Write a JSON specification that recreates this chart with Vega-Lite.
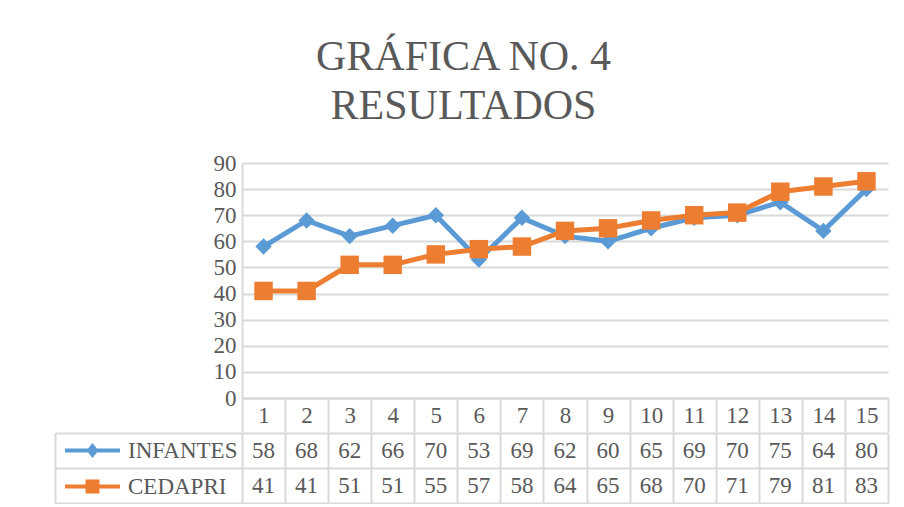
{
  "$schema": "https://vega.github.io/schema/vega-lite/v6.json",
  "padding": {"left": 54, "top": 36, "right": 5, "bottom": 0},
  "background": "white",
  "title": {
    "text": ["GRÁFICA NO. 4", "RESULTADOS"],
    "font": "Liberation Serif",
    "fontSize": 42,
    "fontWeight": "normal",
    "color": "#595959",
    "anchor": "middle",
    "lineHeight": 49,
    "offset": 24,
    "dx": -8
  },
  "datasets": {
    "scores": [
      {"n": 1, "serie": "INFANTES", "valor": 58},
      {"n": 2, "serie": "INFANTES", "valor": 68},
      {"n": 3, "serie": "INFANTES", "valor": 62},
      {"n": 4, "serie": "INFANTES", "valor": 66},
      {"n": 5, "serie": "INFANTES", "valor": 70},
      {"n": 6, "serie": "INFANTES", "valor": 53},
      {"n": 7, "serie": "INFANTES", "valor": 69},
      {"n": 8, "serie": "INFANTES", "valor": 62},
      {"n": 9, "serie": "INFANTES", "valor": 60},
      {"n": 10, "serie": "INFANTES", "valor": 65},
      {"n": 11, "serie": "INFANTES", "valor": 69},
      {"n": 12, "serie": "INFANTES", "valor": 70},
      {"n": 13, "serie": "INFANTES", "valor": 75},
      {"n": 14, "serie": "INFANTES", "valor": 64},
      {"n": 15, "serie": "INFANTES", "valor": 80},
      {"n": 1, "serie": "CEDAPRI", "valor": 41},
      {"n": 2, "serie": "CEDAPRI", "valor": 41},
      {"n": 3, "serie": "CEDAPRI", "valor": 51},
      {"n": 4, "serie": "CEDAPRI", "valor": 51},
      {"n": 5, "serie": "CEDAPRI", "valor": 55},
      {"n": 6, "serie": "CEDAPRI", "valor": 57},
      {"n": 7, "serie": "CEDAPRI", "valor": 58},
      {"n": 8, "serie": "CEDAPRI", "valor": 64},
      {"n": 9, "serie": "CEDAPRI", "valor": 65},
      {"n": 10, "serie": "CEDAPRI", "valor": 68},
      {"n": 11, "serie": "CEDAPRI", "valor": 70},
      {"n": 12, "serie": "CEDAPRI", "valor": 71},
      {"n": 13, "serie": "CEDAPRI", "valor": 79},
      {"n": 14, "serie": "CEDAPRI", "valor": 81},
      {"n": 15, "serie": "CEDAPRI", "valor": 83}
    ]
  },
  "bounds": "flush",
  "spacing": 35,
  "resolve": {
    "scale": {"x": "independent", "y": "independent", "color": "independent"},
    "legend": {"color": "independent"}
  },
  "vconcat": [
    {
      "width": 646,
      "height": 235,
      "data": {"name": "scores"},
      "encoding": {
        "x": {
          "field": "n",
          "type": "ordinal",
          "scale": {"paddingInner": 0, "paddingOuter": 0},
          "axis": {
            "orient": "bottom",
            "title": null,
            "labelAngle": 0,
            "tickBand": "extent",
            "tickSize": 34,
            "tickColor": "#d9d9d9",
            "tickWidth": 2,
            "domainColor": "#d9d9d9",
            "domainWidth": 2,
            "labelFont": "Liberation Serif",
            "labelFontSize": 23,
            "labelColor": "#595959",
            "labelBaseline": "middle",
            "labelPadding": -17,
            "grid": false
          }
        },
        "y": {
          "field": "valor",
          "type": "quantitative",
          "scale": {"domain": [0, 90], "nice": false},
          "axis": {
            "title": null,
            "values": [0, 10, 20, 30, 40, 50, 60, 70, 80, 90],
            "ticks": false,
            "tickSize": 0,
            "labelPadding": 6,
            "labelFont": "Liberation Serif",
            "labelFontSize": 23,
            "labelColor": "#595959",
            "domainColor": "#d9d9d9",
            "domainWidth": 2,
            "grid": true,
            "gridColor": "#d9d9d9",
            "gridWidth": 2
          }
        },
        "color": {
          "field": "serie",
          "type": "nominal",
          "scale": {"domain": ["INFANTES", "CEDAPRI"], "range": ["#5B9BD5", "#ED7D31"]},
          "legend": {
            "orient": "none",
            "legendX": -161,
            "legendY": 276,
            "direction": "vertical",
            "title": null,
            "padding": 0,
            "rowPadding": 12,
            "symbolSize": 225,
            "labelOffset": 24,
            "labelFont": "Liberation Serif",
            "labelFontSize": 23,
            "labelColor": "#595959",
            "labelLimit": 300,
            "encode": {
              "symbols": {
                "update": {
                  "shape": {"signal": "datum.value === 'INFANTES' ? 'M-3.67,-0.27H3.67V0.27H-3.67ZM0,-1L0.8,0L0,1L-0.8,0Z' : 'M-3.67,-0.27H3.67V0.27H-3.67ZM-0.93,-0.93H0.93V0.93H-0.93Z'"},
                  "fill": {"signal": "datum.value === 'INFANTES' ? '#5B9BD5' : '#ED7D31'"},
                  "stroke": {"value": "transparent"},
                  "strokeWidth": {"value": 0},
                  "opacity": {"value": 1},
                  "size": {"value": 225}
                }
              }
            }
          }
        }
      },
      "layer": [
        {
          "transform": [{"filter": "datum.serie === 'INFANTES'"}],
          "mark": {"type": "line", "strokeWidth": 5}
        },
        {
          "transform": [{"filter": "datum.serie === 'INFANTES'"}],
          "mark": {"type": "point", "filled": true, "shape": "diamond", "size": 270, "opacity": 1}
        },
        {
          "transform": [{"filter": "datum.serie === 'CEDAPRI'"}],
          "mark": {"type": "line", "strokeWidth": 5}
        },
        {
          "transform": [{"filter": "datum.serie === 'CEDAPRI'"}],
          "mark": {"type": "point", "filled": true, "shape": "square", "size": 340, "opacity": 1}
        }
      ]
    },
    {
      "width": 646,
      "height": 70,
      "data": {"name": "scores"},
      "mark": {"type": "text", "font": "Liberation Serif", "fontSize": 23, "color": "#595959", "baseline": "middle"},
      "encoding": {
        "x": {
          "field": "n",
          "type": "ordinal",
          "scale": {"paddingInner": 0, "paddingOuter": 0},
          "axis": {
            "title": null,
            "labels": false,
            "ticks": false,
            "domain": false,
            "grid": true,
            "tickBand": "extent",
            "gridColor": "#d9d9d9",
            "gridWidth": 2
          }
        },
        "y": {
          "field": "serie",
          "type": "nominal",
          "scale": {"domain": ["INFANTES", "CEDAPRI"], "paddingInner": 0, "paddingOuter": 0},
          "axis": {
            "orient": "left",
            "offset": 187,
            "title": null,
            "labels": false,
            "tickBand": "extent",
            "tickSize": -187,
            "tickColor": "#d9d9d9",
            "tickWidth": 2,
            "domainColor": "#d9d9d9",
            "domainWidth": 2,
            "grid": true,
            "gridColor": "#d9d9d9",
            "gridWidth": 2
          }
        },
        "text": {"field": "valor", "type": "quantitative"}
      }
    }
  ],
  "config": {
    "view": {"stroke": null},
    "font": "Liberation Serif"
  }
}
